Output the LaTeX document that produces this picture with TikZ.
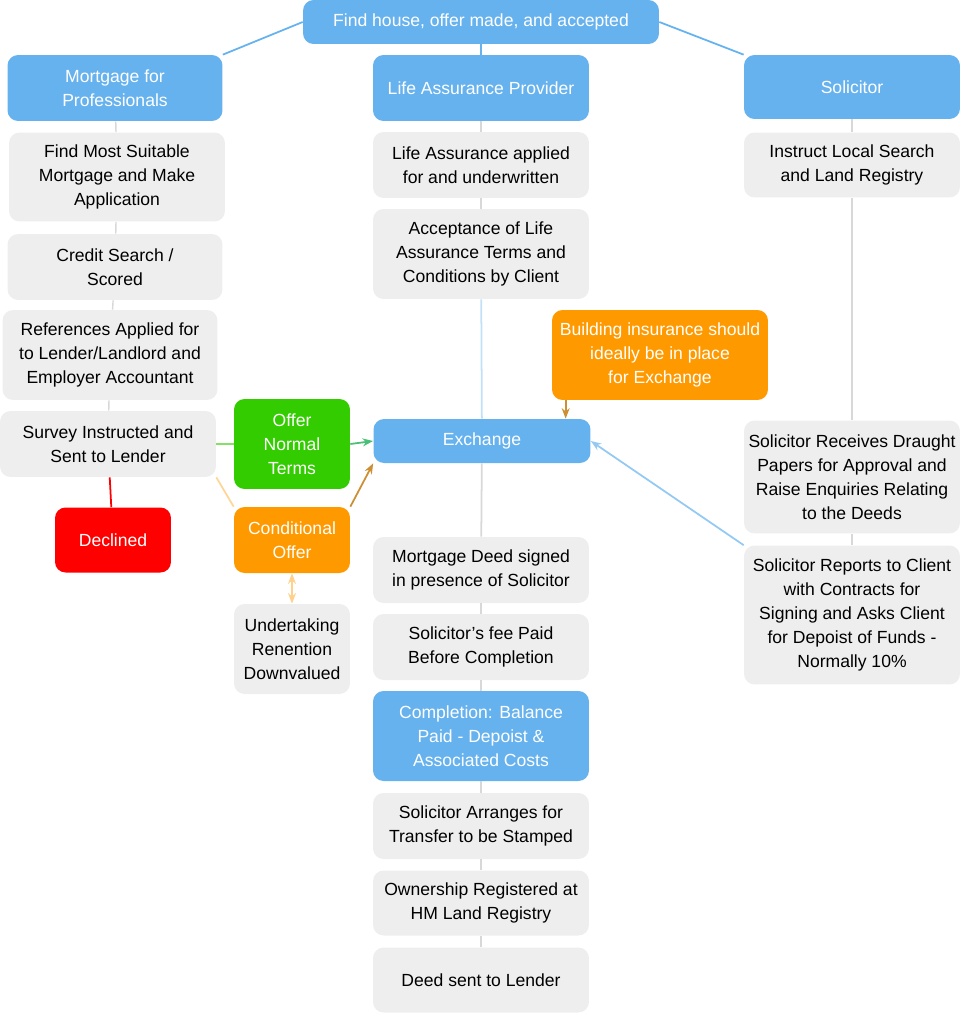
\documentclass[tikz,border=0pt]{standalone}
\usepackage{fontspec}
\setmainfont{Liberation Sans}
\usetikzlibrary{arrows.meta}
\definecolor{boxblue}{HTML}{66B2EE}
\definecolor{boxgray}{HTML}{EEEEEE}
\definecolor{boxgreen}{HTML}{33CC00}
\definecolor{boxorange}{HTML}{FF9900}
\definecolor{boxred}{HTML}{FF0000}
\tikzset{
  box/.style={rounded corners=6pt,align=center,inner sep=0pt,
    font=\fontsize{10}{13.6}\selectfont},
  task/.style={box,fill=boxgray,text=black},
  head/.style={box,fill=boxblue,text=white},
  link/.style={draw=boxgray!80!gray,line width=0.8pt},
}
\begin{document}
\begin{tikzpicture}[x=0.02cm,y=-0.02cm]
\useasboundingbox (0,0) rectangle (968,1014);
% headings
\node[head,minimum width=7.12cm,minimum height=0.88cm] (top) at (481,22) {Find house, offer made, and accepted};
\node[head,minimum width=4.3cm,minimum height=1.32cm] (mort) at (115,88) {Mortgage for\\Professionals};
\node[head,minimum width=4.32cm,minimum height=1.32cm] (life) at (481,88) {Life Assurance Provider};
\node[head,minimum width=4.32cm,minimum height=1.28cm] (sol) at (852,87) {Solicitor};
% mortgage column
\node[task,minimum width=4.32cm,minimum height=1.78cm] (find) at (117,177) {Find Most Suitable\\Mortgage and Make\\Application};
\node[task,minimum width=4.3cm,minimum height=1.32cm] (credit) at (115,267) {Credit Search /\\Scored};
\node[task,minimum width=4.3cm,minimum height=1.8cm] (refs) at (110,355) {References Applied for\\to Lender/Landlord and\\Employer Accountant};
\node[task,minimum width=4.32cm,minimum height=1.32cm] (survey) at (108,444) {Survey Instructed and\\Sent to Lender};
\node[box,fill=boxred,text=white,minimum width=2.32cm,minimum height=1.3cm] (decl) at (113,540) {Declined};
\node[box,fill=boxgreen,text=white,minimum width=2.32cm,minimum height=1.8cm] (offer) at (292,444) {Offer\\Normal\\Terms};
\node[box,fill=boxorange,text=white,minimum width=2.32cm,minimum height=1.32cm] (cond) at (292,540) {Conditional\\Offer};
\node[task,minimum width=2.32cm,minimum height=1.8cm] (under) at (292,649) {Undertaking\\Renention\\Downvalued};
% life assurance column
\node[task,minimum width=4.32cm,minimum height=1.32cm] (applied) at (481,165) {Life Assurance applied\\for and underwritten};
\node[task,minimum width=4.32cm,minimum height=1.8cm] (accept) at (481,254) {Acceptance of Life\\Assurance Terms and\\Conditions by Client};
\node[box,fill=boxorange,text=white,minimum width=4.32cm,minimum height=1.8cm] (build) at (660,355) {Building insurance should\\ideally be in place\\for Exchange};
\node[head,minimum width=4.34cm,minimum height=0.88cm] (exch) at (482,441) {Exchange};
\node[task,minimum width=4.32cm,minimum height=1.32cm] (deed) at (481,570) {Mortgage Deed signed\\in presence of Solicitor};
\node[task,minimum width=4.32cm,minimum height=1.32cm] (fee) at (481,647) {Solicitor's fee Paid\\Before Completion};
\node[head,minimum width=4.32cm,minimum height=1.8cm] (compl) at (481,736) {Completion: Balance\\Paid - Depoist \&\\Associated Costs};
\node[task,minimum width=4.32cm,minimum height=1.32cm] (stamp) at (481,826) {Solicitor Arranges for\\Transfer to be Stamped};
\node[task,minimum width=4.32cm,minimum height=1.3cm] (own) at (481,903) {Ownership Registered at\\HM Land Registry};
\node[task,minimum width=4.32cm,minimum height=1.3cm] (sent) at (481,980) {Deed sent to Lender};
% solicitor column
\node[task,minimum width=4.32cm,minimum height=1.3cm] (search) at (852,165) {Instruct Local Search\\and Land Registry};
\node[task,minimum width=4.32cm,minimum height=2.26cm] (recv) at (852,477) {Solicitor Receives Draught\\Papers for Approval and\\Raise Enquiries Relating\\to the Deeds};
\node[task,minimum width=4.32cm,minimum height=2.78cm] (report) at (852,615) {Solicitor Reports to Client\\with Contracts for\\Signing and Asks Client\\for Depoist of Funds -\\Normally 10\%};
% connectors
\draw[boxblue,line width=1pt] (top.west) -- (mort.north east);
\draw[boxblue,line width=1pt] (top.east) -- (sol.north west);
\draw[boxblue,line width=1pt] (top) -- (life);
\foreach \a/\b in {mort/find,find/credit,credit/refs,refs/survey,life/applied,applied/accept,
  sol/search,search/recv,recv/report,deed/fee,fee/compl,compl/stamp,stamp/own,own/sent}
  \draw[link] (\a) -- (\b);
\draw[boxblue!40,line width=1pt] (accept) -- (exch);
\draw[boxgray!80!gray,line width=1pt] (exch) -- (deed);
\draw[boxred,line width=1pt] (survey) -- (decl);
\draw[boxgreen!60,line width=1pt] (survey.east) -- (offer.west);
\draw[-{Stealth[length=6pt]},boxgreen!50!boxblue,line width=1pt] (offer.east) -- (exch.west);
\draw[boxorange!40,line width=1pt] (survey.south east) -- (cond.north west);
\draw[-{Stealth[length=6pt]},boxorange!60!gray,line width=1pt] (cond.north east) -- (exch.south west);
\draw[{Stealth[length=6pt]}-{Stealth[length=6pt]},boxorange!45,line width=1.5pt] (cond) -- (under);
\coordinate (bs) at ([xshift=0.28cm]build.south west);
\draw[-{Stealth[length=6pt]},boxorange!60!gray,line width=1pt] (bs) -- (bs |- exch.north);
\draw[-{Stealth[length=6pt]},boxblue!70,line width=1pt] (report.north west) -- (exch.east);
\end{tikzpicture}
\end{document}
